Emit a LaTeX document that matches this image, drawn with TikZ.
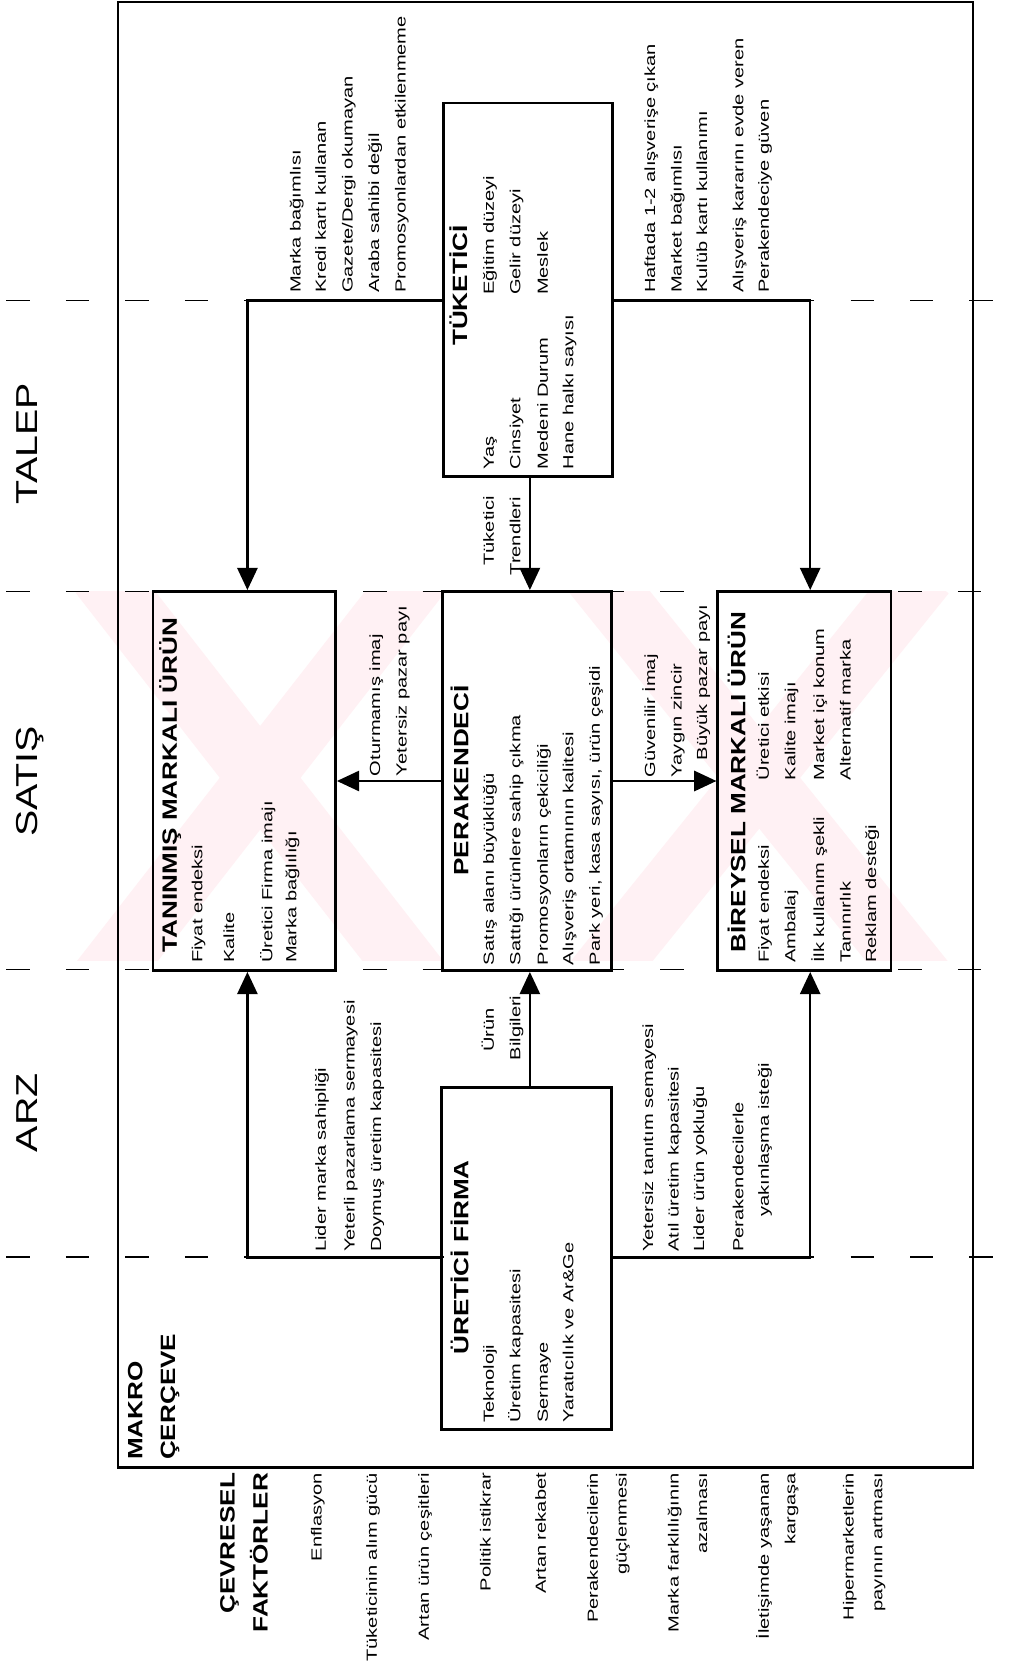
\documentclass[tikz,border=0pt]{standalone}
\usepackage{fontspec}
\setmainfont{Liberation Sans}[FakeStretch=1.37]
\newfontfamily\ttlf{Liberation Sans}[FakeStretch=1.26]
\newfontfamily\bigf{Liberation Sans}[FakeStretch=1.3]
\usetikzlibrary{arrows.meta}
\definecolor{wm}{HTML}{FFF1F4}
\begin{document}
\begin{tikzpicture}[x=1pt,y=-1pt,
  itm/.style={rotate=90,anchor=base west,inner sep=0pt,font=\fontsize{13.8}{16}\selectfont},
  itmE/.style={itm,anchor=base east},
  itmC/.style={itm,anchor=base},
  ttl/.style={rotate=90,anchor=base west,inner sep=0pt,font=\ttlf\bfseries\fontsize{19.5}{22}\selectfont},
  ttlE/.style={ttl,anchor=base east},
  ttlC/.style={ttl,anchor=base},
  big/.style={rotate=90,anchor=base,inner sep=0pt,font=\bigf\fontsize{28.5}{32}\selectfont},
  box/.style={draw,line width=2.6pt,rectangle,inner sep=0pt},
  conn/.style={line width=2.4pt},
  arr/.style={conn,-{Triangle[length=21pt,width=19pt]}},
  dl/.style={line width=1.5pt,dash pattern=on 22pt off 34pt},
]
\useasboundingbox (0,0) rectangle (956,1568);
\fill[white] (0,0) rectangle (956,1568);

% watermark
\begin{scope}
  \clip (60,557) rectangle (956,905);
  \draw[wm,line width=60pt] (95,540) -- (395,925);
  \draw[wm,line width=60pt] (395,540) -- (95,925);
  \draw[wm,line width=60pt] (560,540) -- (870,925);
  \draw[wm,line width=60pt] (870,540) -- (560,925);
\end{scope}

% dashed section lines
\draw[dl] (6,283) -- (418,283);
\draw[dl] (577,283) -- (952,283);
\draw[dl] (6,557) -- (952,557);
\draw[dl] (6,913) -- (952,913);
\draw[dl] (6,1184) -- (418,1184);
\draw[dl] (577,1184) -- (952,1184);

% frame
\draw[line width=2.2pt] (111,2) rectangle (916,1382);

% boxes
\node[box,minimum width=159pt,minimum height=352pt] (tuk) at (497.5,273) {};
\node[box,minimum width=172pt,minimum height=357pt] (tan) at (230,735.5) {};
\node[box,minimum width=159pt,minimum height=357pt] (per) at (496.5,735.5) {};
\node[box,minimum width=163pt,minimum height=357pt] (bir) at (757.5,735.5) {};
\node[box,minimum width=160pt,minimum height=322pt] (ure) at (496,1185) {};

% connectors
\coordinate (tl) at (233,283);
\coordinate (tr) at (763,283);
\coordinate (bl) at (233,1184);
\coordinate (br) at (763,1184);
\coordinate (mid) at (499,0);
\draw[arr] (tuk.west |- tl) -| (tl |- tan.north);
\draw[arr] (tuk.east |- tr) -| (tr |- bir.north);
\draw[arr] (tuk.south -| mid) -- (per.north -| mid);
\draw[arr] (per.west) -- (tan.east);
\draw[arr] (per.east) -- (bir.west);
\draw[arr] (ure.west |- bl) -| (bl |- tan.south);
\draw[arr] (ure.east |- br) -| (br |- bir.south);
\draw[arr] (ure.north -| mid) -- (per.south -| mid);

% big section labels
\node[big] (lab1) at (35,418) {TALEP};
\node[big] (lab2) at (35,736) {SATIŞ};
\node[big] (lab3) at (35,1048) {ARZ};

% upper left labels
\node[itm] (ul1) at (283,276) {Marka bağımlısı};
\node[itm] (ul2) at (307,276) {Kredi kartı kullanan};
\node[itm] (ul3) at (332,276) {Gazete/Dergi okumayan};
\node[itm] (ul4) at (357,276) {Araba sahibi değil};
\node[itm] (ul5) at (382,276) {Promosyonlardan etkilenmeme};
% upper right labels
\node[itm] (ur1) at (617,276) {Haftada 1-2 alışverişe çıkan};
\node[itm] (ur2) at (642,276) {Market bağımlısı};
\node[itm] (ur3) at (666,276) {Kulüb kartı kullanımı};
\node[itm] (ur4) at (700,276) {Alışveriş kararını evde veren};
\node[itm] (ur5) at (724,276) {Perakendeciye güven};

% TUKETICI
\node[ttlC] (tukT) at (440,269) {TÜKETİCİ};
\node[itm] (tuk1) at (465,442) {Yaş};
\node[itm] (tuk2) at (490,442) {Cinsiyet};
\node[itm] (tuk3) at (516,442) {Medeni Durum};
\node[itm] (tuk4) at (540,442) {Hane halkı sayısı};
\node[itm] (tuk5) at (465,278) {Eğitim düzeyi};
\node[itm] (tuk6) at (490,278) {Gelir düzeyi};
\node[itm] (tuk7) at (516,278) {Meslek};
\node[itmC] (tt1) at (465,500) {Tüketici};
\node[itmC] (tt2) at (490,505) {Trendleri};

% TANINMIS
\node[ttl] (tanT) at (166.5,897) {TANINMIŞ MARKALI ÜRÜN};
\node[itm] (tan1) at (190.5,907) {Fiyat endeksi};
\node[itm] (tan2) at (220.5,907) {Kalite};
\node[itm] (tan3) at (256.5,907) {Üretici Firma imajı};
\node[itm] (tan4) at (279,907) {Marka bağlılığı};
\node[itm] (lm1) at (358,731) {Oturmamış imaj};
\node[itm] (lm2) at (383,731) {Yetersiz pazar payı};

% PERAKENDECI
\node[ttlC] (perT) at (441,735) {PERAKENDECİ};
\node[itm] (per1) at (465,909) {Satış alanı büyüklüğü};
\node[itm] (per2) at (490,909) {Sattığı ürünlere sahip çıkma};
\node[itm] (per3) at (516,909) {Promosyonların çekiciliği};
\node[itm] (per4) at (540,909) {Alışveriş ortamının kalitesi};
\node[itm] (per5) at (565,909) {Park yeri, kasa sayısı, ürün çeşidi};
\node[itm] (rm1) at (617,732) {Güvenilir İmaj};
\node[itm] (rm2) at (642,732) {Yaygın zincir};
\node[itm] (rm3) at (666,716) {Büyük pazar payı};

% BIREYSEL
\node[ttl] (birT) at (702,897) {BİREYSEL MARKALI ÜRÜN};
\node[itm] (bir1) at (724,907) {Fiyat endeksi};
\node[itm] (bir2) at (749,907) {Ambalaj};
\node[itm] (bir3) at (776,907) {İlk kullanım şekli};
\node[itm] (bir4) at (801,907) {Tanınırlık};
\node[itm] (bir5) at (825,907) {Reklam desteği};
\node[itm] (bir6) at (724,735) {Üretici etkisi};
\node[itm] (bir7) at (749,735) {Kalite imajı};
\node[itm] (bir8) at (776,735) {Market içi konum};
\node[itm] (bir9) at (801,735) {Alternatif marka};

% URETICI FIRMA
\node[itmC] (ub1) at (465,970) {Ürün};
\node[itmC] (ub2) at (490,968) {Bilgileri};
\node[ttlC] (ureT) at (441,1184) {ÜRETİCİ FİRMA};
\node[itm] (ure1) at (465,1340) {Teknoloji};
\node[itm] (ure2) at (490,1340) {Üretim kapasitesi};
\node[itm] (ure3) at (516,1340) {Sermaye};
\node[itm] (ure4) at (540,1340) {Yaratıcılık ve Ar\&Ge};

% lower labels
\node[itm] (ll1) at (307,1179) {Lider marka sahipliği};
\node[itm] (ll2) at (334,1179) {Yeterli pazarlama sermayesi};
\node[itm] (ll3) at (359,1179) {Doymuş üretim kapasitesi};
\node[itm] (lr1) at (615,1179) {Yetersiz tanıtım semayesi};
\node[itm] (lr2) at (639,1179) {Atıl üretim kapasitesi};
\node[itm] (lr3) at (663,1179) {Lider ürün yokluğu};
\node[itm] (lr4) at (700,1179) {Perakendecilerle};
\node[itm] (lr5) at (724,1146) {yakınlaşma isteği};

% makro cerceve
\node[ttl] (mak1) at (134,1375) {MAKRO};
\node[ttl] (mak2) at (165,1375) {ÇERÇEVE};

% cevresel faktorler
\node[ttlE] (cf1) at (221,1387) {ÇEVRESEL};
\node[ttlE] (cf2) at (252,1387) {FAKTÖRLER};
\node[itmE] (f1) at (303,1387) {Enflasyon};
\node[itmE] (f2) at (355,1387) {Tüketicinin alım gücü};
\node[itmE] (f3) at (404,1387) {Artan ürün çeşitleri};
\node[itmE] (f4) at (462,1387) {Politik istikrar};
\node[itmE] (f5) at (514,1387) {Artan rekabet};
\node[itmE] (f6) at (563,1387) {Perakendecilerin};
\node[itmE] (f7) at (590,1387) {güçlenmesi};
\node[itmE] (f8) at (639,1387) {Marka farklılığının};
\node[itmE] (f9) at (666,1387) {azalması};
\node[itmE] (f10) at (724,1387) {İletişimde yaşanan};
\node[itmE] (f11) at (749,1387) {kargaşa};
\node[itmE] (f12) at (804,1387) {Hipermarketlerin};
\node[itmE] (f13) at (831,1387) {payının artması};
\end{tikzpicture}
\end{document}
